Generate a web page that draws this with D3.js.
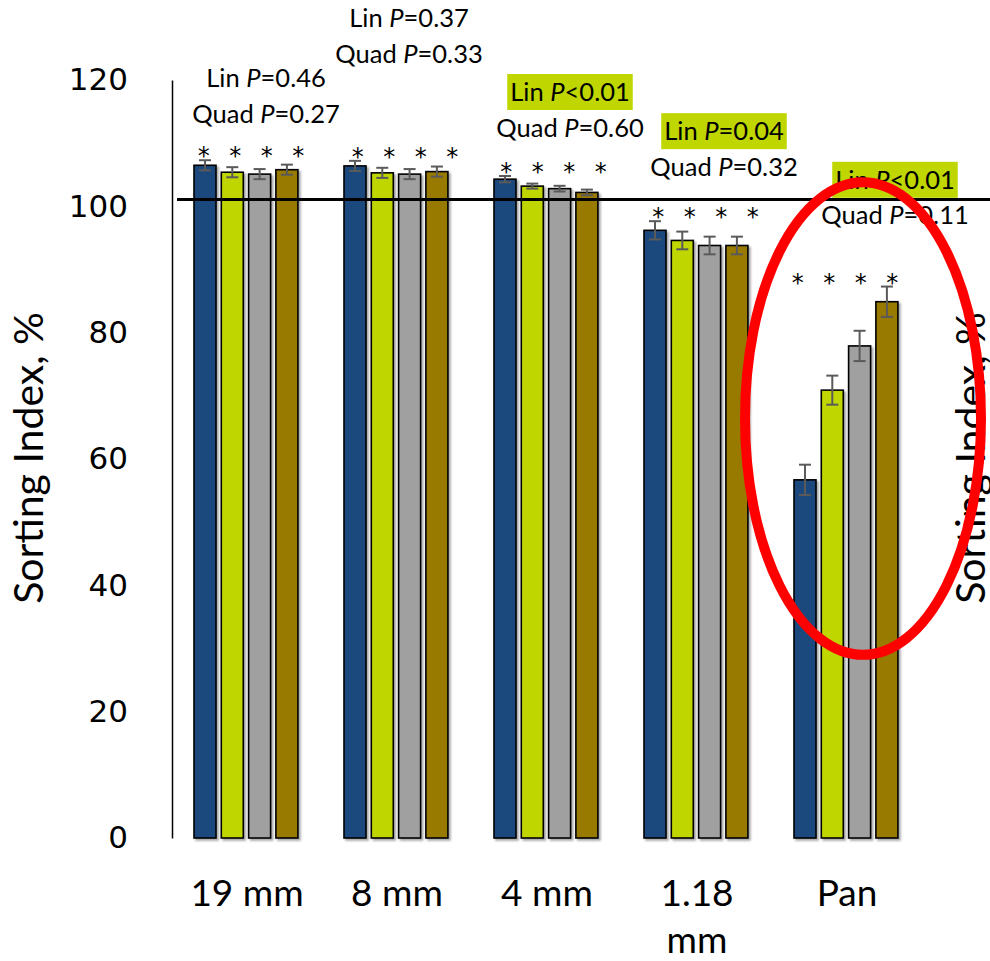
<!DOCTYPE html>
<html>
<head>
<meta charset="utf-8">
<script src="https://cdn.jsdelivr.net/npm/d3@7"></script>
<style>
  html, body { margin: 0; padding: 0; background: #fff; }
  svg { display: block; }
</style>
</head>
<body>
<svg id="chart" width="990" height="961"></svg>
<script>
// ---- data ----
const categories = ["19 mm", "8 mm", "4 mm", "1.18 mm", "Pan"];
const seriesNames = ["Level 1", "Level 2", "Level 3", "Level 4"];
const level1 = [106.5, 106.4, 104.3, 96.2, 56.7];
const level2 = [105.4, 105.3, 103.2, 94.6, 70.9];
const level3 = [105.1, 105.1, 102.8, 93.8, 77.9];
const level4 = [105.8, 105.5, 102.2, 93.8, 84.9];
const level1Err = [0.8, 0.8, 0.5, 1.45, 2.4];
const level2Err = [0.8, 0.8, 0.4, 1.4, 2.3];
const level3Err = [0.8, 0.8, 0.45, 1.4, 2.4];
const level4Err = [0.8, 0.8, 0.45, 1.4, 2.4];
const yTicks = [0, 20, 40, 60, 80, 100, 120];
const linearP = ["=0.46", "=0.37", "<0.01", "=0.04", "<0.01"];
const quadraticP = ["=0.27", "=0.33", "=0.60", "=0.32", "=0.11"];
const referenceLevel = 101.1;
const yTitle = "Sorting Index, %";

// ---- styling / layout ----
const seriesColors = ["#1f497d", "#bfd600", "#a0a0a0", "#997a00"];
const highlightColor = "#bfd600";
const plot = { left: 172, right: 922, top: 80, bottom: 838 };
const labelFont = "Lato, 'Noto Sans', sans-serif";
const tickFont = "'DejaVu Sans', Verdana, sans-serif";
// label placement for the P-value notes (x shift from group centre, level of first line)
const noteShift = [19, 12, 23, 27, 48];
const noteLevel = [120.3, 129.8, 118.1, 111.9, 104.2];
// horizontal shift of the row of asterisks above each group
const starShift = [4, 8, 6.5, 8.5, -2];
const starSpacing = 31.5;

const values = [level1, level2, level3, level4];
const errors = [level1Err, level2Err, level3Err, level4Err];

const svg = d3.select("#chart");

const defs = svg.append("defs");
const shadow = defs.append("filter").attr("id", "shade")
  .attr("x", "-20%").attr("y", "-5%").attr("width", "140%").attr("height", "115%");
shadow.append("feDropShadow").attr("dx", 2).attr("dy", 2)
  .attr("stdDeviation", 1).attr("flood-color", "#000").attr("flood-opacity", 0.35);

const y = d3.scaleLinear().domain([0, 120]).range([plot.bottom, plot.top]);
const x0 = d3.scaleBand().domain(categories).range([plot.left, plot.right]);
const x1 = d3.scaleBand().domain(seriesNames).range([22, 125.9]).paddingInner(0.194);

// y axis
const yAxis = svg.append("g")
  .attr("transform", `translate(${plot.left},0)`)
  .call(d3.axisLeft(y).tickValues(yTicks).tickSize(0).tickPadding(44).tickFormat(d3.format("d")));
yAxis.select(".domain").attr("stroke", "#000").attr("stroke-width", 1.5);
yAxis.selectAll("text")
  .attr("font-family", tickFont).attr("font-size", 31).attr("fill", "#000");

// bars
const groups = svg.append("g").selectAll("g")
  .data(categories)
  .join("g")
  .attr("transform", d => `translate(${x0(d)},0)`);

groups.each(function (cat, ci) {
  const g = d3.select(this);
  seriesNames.forEach((s, si) => {
    const v = values[si][ci];
    g.append("rect")
      .attr("x", x1(s))
      .attr("y", y(v))
      .attr("width", x1.bandwidth())
      .attr("height", y(0) - y(v))
      .attr("fill", seriesColors[si])
      .attr("stroke", "#000")
      .attr("stroke-width", 1.6)
      .attr("filter", "url(#shade)");
  });
  seriesNames.forEach((s, si) => {
    const v = values[si][ci], e = errors[si][ci];
    const cx = x1(s) + x1.bandwidth() / 2;
    const eb = g.append("g").attr("stroke", "#5a5a5a").attr("stroke-width", 2);
    eb.append("line").attr("x1", cx).attr("x2", cx).attr("y1", y(v + e)).attr("y2", y(v - e));
    eb.append("line").attr("x1", cx - 6).attr("x2", cx + 6).attr("y1", y(v + e)).attr("y2", y(v + e));
    eb.append("line").attr("x1", cx - 6).attr("x2", cx + 6).attr("y1", y(v - e)).attr("y2", y(v - e));
  });
  // significance asterisks
  const topVal = d3.max(seriesNames, (s, si) => values[si][ci] + errors[si][ci]);
  const starY = y(topVal) - 10;
  const gc = x0.bandwidth() / 2 + starShift[ci];
  seriesNames.forEach((s, si) => {
    g.append("text")
      .attr("x", gc + (si - 1.5) * starSpacing)
      .attr("y", starY + 14)
      .attr("text-anchor", "middle")
      .attr("font-family", tickFont)
      .attr("font-size", 24)
      .attr("fill", "#000")
      .text("*");
  });
});

// x axis
const xAxis = svg.append("g")
  .attr("transform", `translate(0,${plot.bottom})`)
  .call(d3.axisBottom(x0).tickSize(0).tickPadding(42));
xAxis.select(".domain").attr("stroke", "#000").attr("stroke-width", 1.5).attr("filter", "url(#shade)");
xAxis.selectAll("text")
  .attr("font-family", labelFont).attr("font-size", 37).attr("fill", "#000")
  .each(function () {
    const t = d3.select(this);
    const words = t.text().split(" ");
    if (this.getComputedTextLength() > 125 && words.length > 1) {
      t.text(null);
      const yy = t.attr("y"), dy = t.attr("dy");
      t.append("tspan").attr("x", 0).attr("y", yy).attr("dy", dy).text(words.slice(0, -1).join(" "));
      t.append("tspan").attr("x", 0).attr("y", yy).attr("dy", "1.98em").text(words[words.length - 1]);
    }
  });

// reference line
svg.append("line")
  .attr("x1", plot.left + 5).attr("x2", 990)
  .attr("y1", y(referenceLevel)).attr("y2", y(referenceLevel))
  .attr("stroke", "#000").attr("stroke-width", 3);

// P-value notes
const notes = svg.append("g")
  .attr("font-family", labelFont).attr("font-size", 25.5).attr("fill", "#000");
categories.forEach((cat, ci) => {
  const cx = x0(cat) + x0.bandwidth() / 2 + noteShift[ci];
  const cy = y(noteLevel[ci]);
  const sig = linearP[ci].startsWith("<") || parseFloat(linearP[ci].slice(1)) < 0.05;
  const hl = notes.append("rect").attr("fill", highlightColor);
  const lin = notes.append("text")
    .attr("x", cx).attr("y", cy).attr("dy", "0.36em").attr("text-anchor", "middle");
  lin.append("tspan").text("Lin ");
  lin.append("tspan").attr("font-style", "italic").text("P");
  lin.append("tspan").text(linearP[ci]);
  if (sig) {
    const w = lin.node().getComputedTextLength();
    hl.attr("x", cx - w / 2 - 3).attr("y", cy - 18).attr("width", w + 6).attr("height", 36);
  } else {
    hl.remove();
  }
  const quad = notes.append("text")
    .attr("x", cx).attr("y", cy + 35.5).attr("dy", "0.36em").attr("text-anchor", "middle");
  quad.append("tspan").text("Quad ");
  quad.append("tspan").attr("font-style", "italic").text("P");
  quad.append("tspan").text(quadraticP[ci]);
});

// axis titles (left, and repeated at the right edge)
[43, 985].forEach(tx => {
  svg.append("text")
    .attr("transform", `translate(${tx},${y(60) - 1}) rotate(-90)`)
    .attr("text-anchor", "middle")
    .attr("font-family", labelFont).attr("font-size", 41).attr("fill", "#000")
    .text(yTitle);
});

// emphasis ring around the Pan group
const panCx = x0("Pan") + x0.bandwidth() / 2 + 16;
svg.append("ellipse")
  .attr("cx", panCx)
  .attr("cy", (y(103.8) + y(29.0)) / 2)
  .attr("rx", 118)
  .attr("ry", (y(29.0) - y(103.8)) / 2)
  .attr("fill", "none")
  .attr("stroke", "#ff0000")
  .attr("stroke-width", 10);
</script>
</body>
</html>
